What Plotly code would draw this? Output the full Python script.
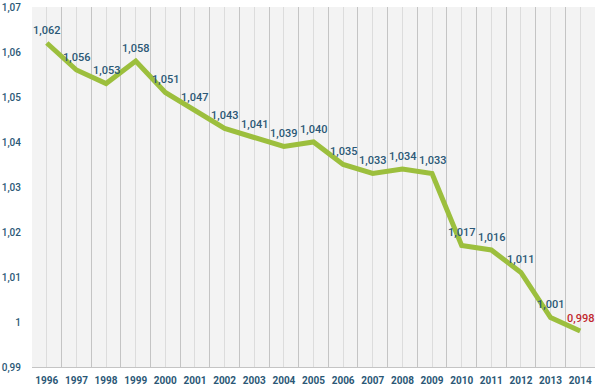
import plotly.graph_objects as go

years = list(range(1996, 2015))
values = [1.062, 1.056, 1.053, 1.058, 1.051, 1.047, 1.043, 1.041, 1.039, 1.040,
          1.035, 1.033, 1.034, 1.033, 1.017, 1.016, 1.011, 1.001, 0.998]
labels = ["1,062", "1,056", "1,053", "1,058", "1,051", "1,047", "1,043", "1,041", "1,039", "1,040",
          "1,035", "1,033", "1,034", "1,033", "1,017", "1,016", "1,011", "1,001", "0,998"]
ytick_vals = [0.99, 1.00, 1.01, 1.02, 1.03, 1.04, 1.05, 1.06, 1.07]
ytick_text = ["0,99", "1", "1,01", "1,02", "1,03", "1,04", "1,05", "1,06", "1,07"]

navy = "#2b5876"
red = "#c1272d"
label_colors = [navy] * (len(values) - 1) + [red]

FONT = "Roboto, sans-serif"

fig = go.Figure()
fig.add_trace(go.Scatter(
    x=years, y=values, mode="lines",
    line=dict(color="#9cbf3d", width=5),
    hoverinfo="skip",
))

for x, y, t, c in zip(years, values, labels, label_colors):
    fig.add_annotation(
        x=x, y=y, text=t, showarrow=False, yshift=13,
        font=dict(family=FONT, size=11, color=c, weight=500),
        xanchor="center", yanchor="middle",
    )

fig.update_layout(
    width=600, height=390,
    margin=dict(l=32, r=5, t=7, b=23),
    paper_bgcolor="white", plot_bgcolor="#f3f3f3",
    showlegend=False,
    font=dict(family=FONT, color=navy),
)
fig.update_xaxes(
    range=[1995.5, 2014.5],
    tickvals=years, ticktext=[str(y) for y in years],
    tickfont=dict(family=FONT, size=10, color=navy, weight="bold"),
    showgrid=True, gridcolor="#dcdcdc", gridwidth=1,
    minor=dict(tick0=1995.5, dtick=1, showgrid=True, gridcolor="#c4c4c4", gridwidth=1),
    ticks="outside", ticklen=4, tickcolor="rgba(0,0,0,0)",
    showline=True, linecolor="#c4c4c4", linewidth=1, mirror=False,
    zeroline=False, automargin=False,
)
fig.update_yaxes(
    range=[0.99, 1.07],
    tickvals=ytick_vals, ticktext=ytick_text,
    tickfont=dict(family=FONT, size=10, color=navy, weight=500),
    showgrid=False, zeroline=False,
    ticks="outside", ticklen=8, tickcolor="rgba(0,0,0,0)",
    showline=False, automargin=False,
)

fig.write_html(
    "out.html",
    config={"displayModeBar": False},
    post_script="document.body.style.margin='0';document.body.style.overflow='hidden';",
)
